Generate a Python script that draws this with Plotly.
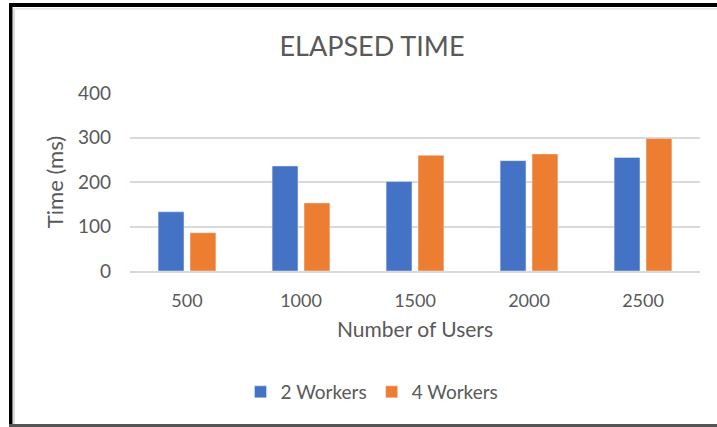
import plotly.graph_objects as go

users = ["500", "1000", "1500", "2000", "2500"]
workers2 = [133, 236, 201, 248, 255]
workers4 = [86, 153, 260, 263, 298]
series_names = ["2 Workers", "4 Workers"]
y_ticks = [0, 100, 200, 300, 400]

W, H = 717, 427
L, R, T, B = 130, 17, 93, 156
PW, PH = W - L - R, H - T - B

def px(x):
    return (x - L) / PW

def py(y):
    return (T + PH - y) / PH

FONT = "Lato"
TXT = "#595959"

fig = go.Figure()
fig.add_bar(x=users, y=workers2, name=series_names[0], marker_color="#4472C4")
fig.add_bar(x=users, y=workers4, name=series_names[1], marker_color="#ED7D31")

shapes = [
    dict(type="rect", xref="paper", yref="paper", x0=px(9), x1=px(720), y0=py(3), y1=py(7),
         fillcolor="black", line_width=0),
    dict(type="rect", xref="paper", yref="paper", x0=px(9), x1=px(12.5), y0=py(3), y1=py(430),
         fillcolor="black", line_width=0),
    dict(type="rect", xref="paper", yref="paper", x0=px(9), x1=px(720), y0=py(424), y1=py(430),
         fillcolor="#555555", line_width=0),
    dict(type="rect", xref="paper", yref="paper", x0=px(13), x1=px(15), y0=py(8), y1=py(424),
         fillcolor="#dddddd", line_width=0),
    dict(type="rect", xref="paper", yref="paper", x0=px(13), x1=px(720), y0=py(8), y1=py(9.5),
         fillcolor="#e8e8e8", line_width=0),
]

fig.update_layout(
    width=W, height=H,
    margin=dict(l=L, r=R, t=T, b=B),
    paper_bgcolor="white", plot_bgcolor="white",
    barmode="group", bargap=0.44, bargroupgap=0.19,
    font=dict(family=FONT, color=TXT, size=18),
    title=dict(text="ELAPSED TIME", x=px(372), xref="paper", xanchor="center",
               y=1 - 47 / H, yref="container", yanchor="middle",
               font=dict(size=27, color=TXT, family=FONT)),
    xaxis=dict(showgrid=False, showline=True, linecolor="#d9d9d9", linewidth=1.5,
               tickfont=dict(size=18, color=TXT), ticklabelstandoff=13,
               title=dict(text="Number of Users", font=dict(size=21, color=TXT), standoff=12)),
    yaxis=dict(range=[0, 400], tickvals=y_ticks, showgrid=True, gridcolor="#d9d9d9", gridwidth=1.5,
               zeroline=False, tickfont=dict(size=19, color=TXT), ticklabelstandoff=18,
               title=dict(text="Time (ms)", font=dict(size=22, color=TXT), standoff=8)),
    legend=dict(orientation="h", x=px(372), xanchor="center", y=py(392), yanchor="middle",
                font=dict(size=19, color=TXT), itemwidth=30, traceorder="normal"),
    shapes=shapes,
)

fig.write_html("out.html")
